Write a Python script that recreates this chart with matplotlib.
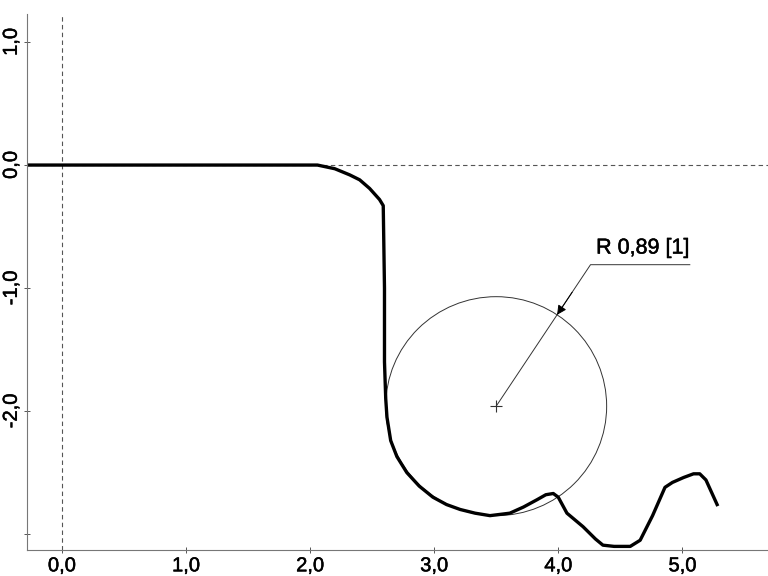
import numpy as np
import matplotlib.pyplot as plt
import matplotlib.patheffects as pe
from matplotlib.patches import Circle

plt.rcParams['font.family'] = ['Liberation Sans', 'DejaVu Sans']

# profile
x = [-0.28, 0.0, 1.0, 2.0, 2.06, 2.2, 2.32, 2.40, 2.48, 2.56, 2.59, 2.60, 2.60,
     2.61, 2.62, 2.65, 2.70, 2.78, 2.88, 2.99, 3.10, 3.21, 3.33, 3.45, 3.61,
     3.72, 3.83, 3.90, 3.96, 4.00, 4.07, 4.20, 4.30, 4.36, 4.45, 4.58, 4.66, 4.76, 4.86,
     4.92, 5.01, 5.09, 5.14, 5.19, 5.28]
y = [0.0, 0.0, 0.0, 0.0, 0.0, -0.03, -0.08, -0.12, -0.19, -0.28, -0.33, -1.0, -1.6,
     -1.9, -2.05, -2.24, -2.37, -2.50, -2.61, -2.70, -2.76, -2.80, -2.83, -2.85, -2.83,
     -2.78, -2.72, -2.68, -2.67, -2.70, -2.83, -2.94, -3.04, -3.09, -3.10, -3.10, -3.05, -2.85, -2.62,
     -2.58, -2.54, -2.51, -2.51, -2.56, -2.76]

circle_center = (3.5, -1.96)
circle_r = 0.89
label = 'R 0,89 [1]'

xticks = [0, 1, 2, 3, 4, 5]
yticks = [1, 0, -1, -2, -3]
ytick_labels = ['1,0', '0,0', '-1,0', '-2,0', '']

fig = plt.figure(figsize=(7.68, 5.76), dpi=100)
ax = fig.add_axes([0.0352, 0.045, 0.9648, 0.9307])

ax.axvline(0, color='#555555', lw=0.8, ls=(0, (4, 3)))
ax.axhline(0, color='#555555', lw=0.8, ls=(0, (4, 3)))

ax.plot(x, y, color='black', lw=2.4, solid_joinstyle='round')

ax.add_patch(Circle(circle_center, circle_r, fill=False, color='#333333', lw=0.7))
ax.plot(*circle_center, marker='+', color='#333333', ms=8, mew=0.8)

# leader line with arrow on the circle
knee = (4.26, -0.81)
end_x = 5.06
d = np.array(knee) - np.array(circle_center)
d = d / np.hypot(*d)
tip = np.array(circle_center) + d * circle_r
ax.plot([circle_center[0], knee[0], end_x], [circle_center[1], knee[1], knee[1]],
        color='#333333', lw=0.7)
ax.annotate('', xy=tip, xytext=tip + d * 0.22,
            arrowprops=dict(arrowstyle='-|>', color='black', lw=0.7,
                            mutation_scale=14, shrinkA=0, shrinkB=0))
thick = [pe.withStroke(linewidth=0.35, foreground='black')]
ax.text((knee[0] + end_x) / 2 + 0.02, knee[1] + 0.05, label, fontsize=15.5,
        ha='center', va='bottom', path_effects=thick)

ax.set_xlim(-0.28, 5.69)
ax.set_ylim(-3.13, 1.228)
ax.set_xticks(xticks)
ax.set_xticklabels([f'{v:.1f}'.replace('.', ',') for v in xticks], fontsize=14.5)
ax.set_yticks(yticks)
ax.set_yticklabels(ytick_labels, fontsize=14.5, rotation=90, va='center')
for t in ax.get_xticklabels() + ax.get_yticklabels():
    t.set_path_effects(thick)

for s in ['top', 'right']:
    ax.spines[s].set_visible(False)
for s in ['left', 'bottom']:
    ax.spines[s].set_color('#777777')
    ax.spines[s].set_linewidth(0.8)
ax.tick_params(axis='both', direction='inout', length=5, width=0.7, color='#555555', pad=2)

fig.savefig('out.png', dpi=100)
